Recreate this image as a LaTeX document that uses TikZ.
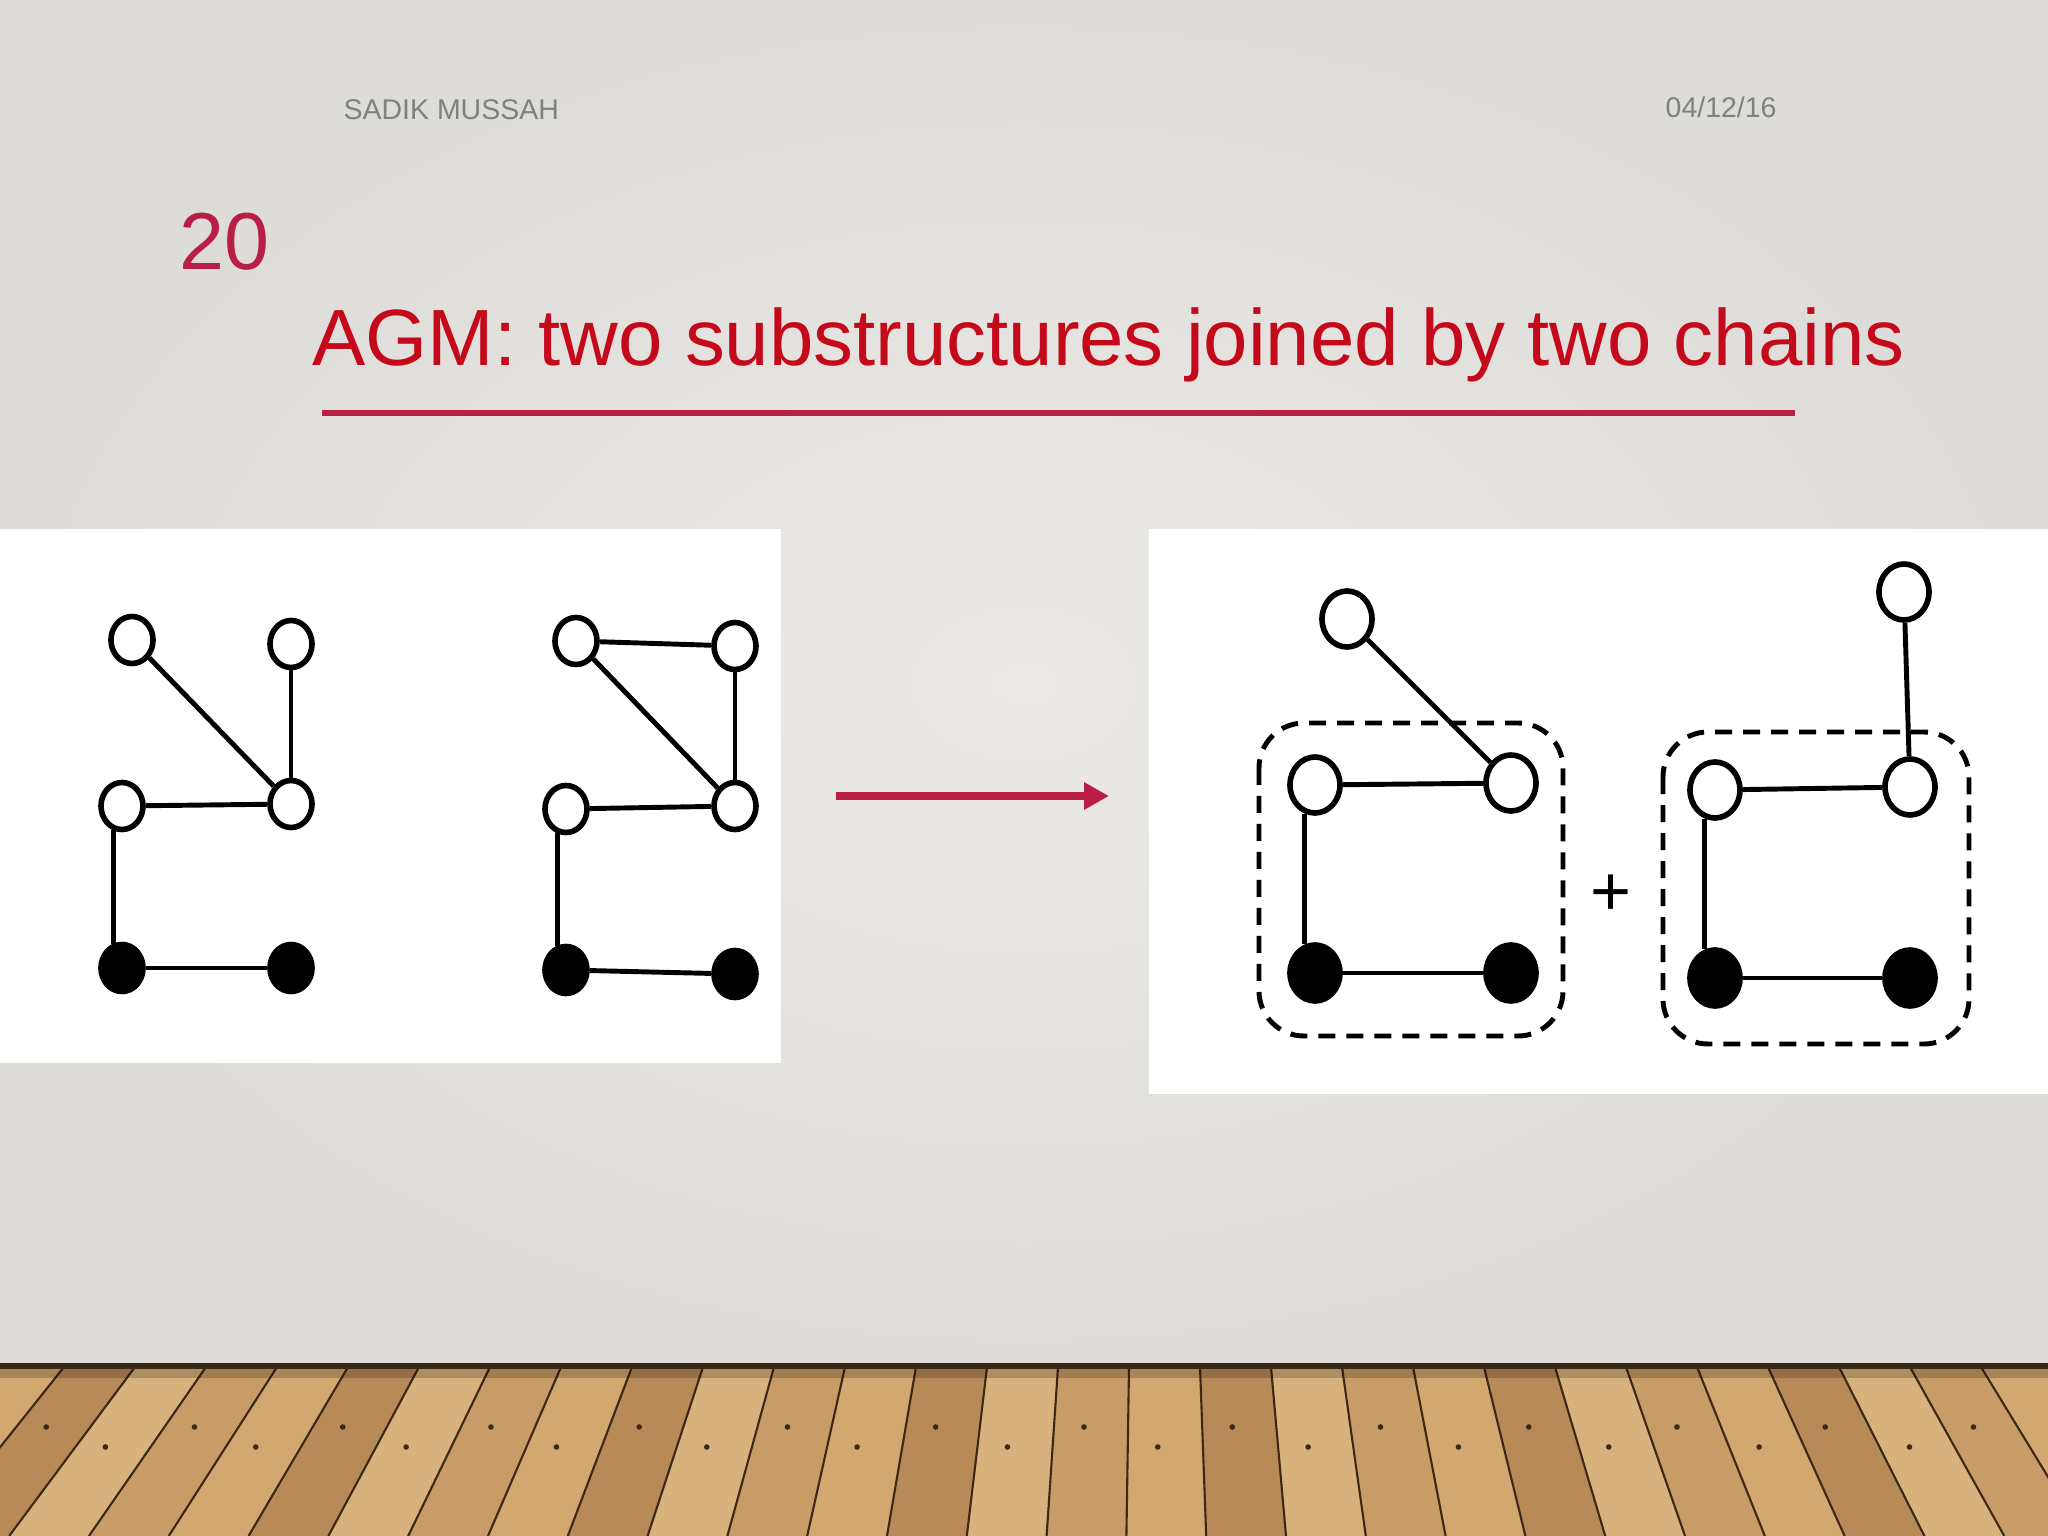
\documentclass[tikz,border=0pt]{standalone}
\usepackage{fontspec}
\setmainfont{Liberation Sans}
\usetikzlibrary{shapes.geometric,arrows.meta}
\definecolor{titlered}{RGB}{196,10,26}
\definecolor{accent}{RGB}{184,30,70}
\definecolor{hdrgray}{RGB}{128,128,128}
\definecolor{wallin}{RGB}{236,234,231}
\definecolor{wallout}{RGB}{222,220,216}
\definecolor{wood0}{RGB}{200,156,102}
\definecolor{wood1}{RGB}{216,178,124}
\definecolor{wood2}{RGB}{184,138,88}
\definecolor{wood3}{RGB}{208,168,112}
\definecolor{seam}{RGB}{60,40,22}
\tikzset{ wv/.style = { ellipse % white vertex
        , draw
        , fill = white
        , line width = 1.6pt
        , inner sep = 0pt
        , minimum width = 4.2mm
        , minimum height = 4.7mm
        }
        , bv/.style = { wv % black vertex
        , fill = black
        }
        , lg/.style = { minimum width = 5mm % right panel
        , minimum height = 5.6mm
        }
        }

\begin{document}
\begin{tikzpicture}[line join=round,
        edge_style/.style={draw=black, line width=1.4pt},
        group_style/.style={draw=black, line width=1.4pt, dash pattern=on 1.7mm off 1.1mm, rounded corners=4.5mm},
        arrow_style/.style={draw=accent, line width=2.3pt, -{Triangle[length=2.5mm,width=2.6mm]}},
        seam_style/.style={draw=seam, line width=0.6pt},
        txt_style/.style={anchor=base west, inner sep=0pt},
        hdr_style/.style={txt_style, text=hdrgray, font=\fontsize{8.1}{10}\selectfont}]
        \useasboundingbox (0,0) rectangle (20.48,-15.36);
        % wall and floor
        \shade [inner color=wallin, outer color=wallout] (0,0) rectangle (20.48,-13.67);
        \fill [wood0] (0,-13.67) rectangle (20.48,-15.36);
        \foreach \k in {0,...,30} {
            \pgfmathsetmacro{\xa}{-0.78+0.71*\k}
            \pgfmathsetmacro{\xb}{\xa+0.71}
            \pgfmathsetmacro{\xc}{11.5+(\xa-11.5)*1.124}
            \pgfmathsetmacro{\xd}{11.5+(\xb-11.5)*1.124}
            \pgfmathtruncatemacro{\m}{mod(\k*3,4)}
            \fill [fill=wood\m] (\xa,-13.67) -- (\xb,-13.67) -- (\xd,-15.36) -- (\xc,-15.36) -- cycle;
            \draw [seam_style] (\xa,-13.67) -- (\xc,-15.36);
            \pgfmathsetmacro{\yn}{-14.27-0.2*mod(\k,2)}
            \pgfmathsetmacro{\xn}{\xa+(\xc-\xa)*(-13.67-\yn)/1.69+0.3}
            \fill [seam] (\xn,\yn) circle (0.028);
        }
        \fill [seam] (0,-13.63) rectangle (20.48,-13.69);
        \fill [black, opacity=0.2] (0,-13.69) rectangle (20.48,-13.78);

        % header
        \node [hdr_style](author) at (3.43,-1.20) {SADIK MUSSAH};
        \node [hdr_style](date) at (16.65,-1.18) {04/12/16};
        \node [txt_style, text=accent, font=\fontsize{23}{28}\selectfont](num) at (1.79,-2.70) {20};
        \node [txt_style, text=titlered, font=\fontsize{22.7}{27}\selectfont](title) at (3.12,-3.66) {AGM: two substructures joined by two chains};
        \coordinate (ul_s) at (3.22,-4.13);
        \coordinate (ul_e) at (17.95,-4.13);
        \draw [accent, line width=1.7pt] (ul_s) -- (ul_e);

        % panels
        \fill [white] (0,-5.29) rectangle (7.81,-10.63);
        \fill [white] (11.49,-5.29) rectangle (20.48,-10.94);

        % left panel
        \node [wv](a1) at (1.32,-6.40) {};
        \node [wv](a2) at (2.91,-6.44) {};
        \node [wv](a3) at (1.22,-8.06) {};
        \node [wv](a4) at (2.91,-8.04) {};
        \node [bv](a5) at (1.22,-9.68) {};
        \node [bv](a6) at (2.91,-9.68) {};
        \draw [edge_style] (a1) -- (a4);
        \draw [edge_style] (a2) -- (a4);
        \draw [edge_style] (a3) -- (a4);
        \draw [edge_style] (a3.250) -- (a5.110);
        \draw [edge_style] (a5) -- (a6);

        \node [wv](b1) at (5.76,-6.41) {};
        \node [wv](b2) at (7.35,-6.46) {};
        \node [wv](b3) at (5.66,-8.09) {};
        \node [wv](b4) at (7.35,-8.06) {};
        \node [bv](b5) at (5.66,-9.70) {};
        \node [bv](b6) at (7.35,-9.74) {};
        \draw [edge_style] (b1) -- (b2);
        \draw [edge_style] (b1) -- (b4);
        \draw [edge_style] (b2) -- (b4);
        \draw [edge_style] (b3) -- (b4);
        \draw [edge_style] (b3.250) -- (b5.110);
        \draw [edge_style] (b5) -- (b6);

        % arrow
        \coordinate (arr_s) at (8.36,-7.96);
        \coordinate (arr_e) at (11.09,-7.96);
        \draw [arrow_style] (arr_s) -- (arr_e);

        % right panel
        \draw [group_style] (12.59,-7.23) rectangle (15.63,-10.36);
        \draw [group_style] (16.63,-7.32) rectangle (19.69,-10.44);
        \node [font=\fontsize{20}{24}\selectfont](plus) at (16.11,-8.95) {+};

        \node [wv,lg](c1) at (13.47,-6.19) {};
        \node [wv,lg](c2) at (13.15,-7.85) {};
        \node [wv,lg](c3) at (15.11,-7.83) {};
        \node [bv,lg](c4) at (13.15,-9.73) {};
        \node [bv,lg](c5) at (15.11,-9.73) {};
        \draw [edge_style] (c1) -- (c3);
        \draw [edge_style] (c2) -- (c3);
        \draw [edge_style] (c2.250) -- (c4.110);
        \draw [edge_style] (c4) -- (c5);

        \node [wv,lg](d1) at (19.04,-5.92) {};
        \node [wv,lg](d2) at (17.15,-7.90) {};
        \node [wv,lg](d3) at (19.10,-7.87) {};
        \node [bv,lg](d4) at (17.15,-9.78) {};
        \node [bv,lg](d5) at (19.10,-9.78) {};
        \draw [edge_style] (d1) -- (d3);
        \draw [edge_style] (d2) -- (d3);
        \draw [edge_style] (d2.250) -- (d4.110);
        \draw [edge_style] (d4) -- (d5);
\end{tikzpicture}
\end{document}
